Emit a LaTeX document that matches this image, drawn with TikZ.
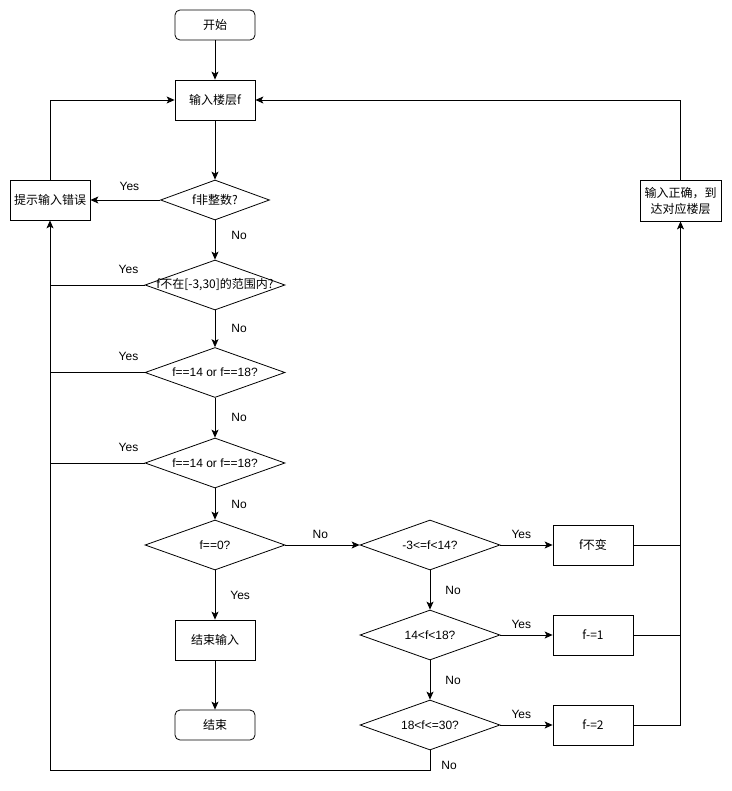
\documentclass[tikz,border=0pt]{standalone}
\usepackage{fontspec}
\setmainfont{Liberation Sans}
\newfontfamily\cjk{Noto Sans CJK SC}
\usepackage{tikz}
\usetikzlibrary{arrows.meta,positioning,shapes.geometric}

\newcommand\fsz{\fontsize{12}{16}\selectfont}

\begin{document}
\begin{tikzpicture}[
  x=1pt, y=-1pt,
  >={Stealth[length=8pt,width=7pt,inset=2pt]},
  line width=0.8pt,
  term/.style={draw, rectangle, rounded corners=5pt, minimum width=80pt,
               minimum height=30pt, font=\fsz\cjk},
  proc/.style={draw, rectangle, minimum width=80pt, minimum height=40pt,
               inner sep=2pt, align=center, font=\fsz\cjk},
  dec/.style={draw, diamond, minimum width=140pt, minimum height=50pt,
              inner sep=0pt, font=\fsz},
  lbl/.style={font=\fsz, inner sep=3pt},
]
\useasboundingbox (0,0) rectangle (731,791);

%%---- Main column --------------------------------------------------
\node[term] (start) at (215,25) {开始};
\node[proc] (inp) at (215,100) {输入楼层f};
\node[dec, minimum width=109pt, minimum height=40pt] (d1) at (215,200)
  {\makebox[0pt]{\cjk f非整数?}};
\node[dec] (d2) at (215,285) {\makebox[0pt]{\cjk f不在[-3,30]的范围内?}};
\node[dec] (d3) at (215,372.5) {\makebox[0pt]{f==14 or f==18?}};
\node[dec] (d4) at (215,463) {\makebox[0pt]{f==14 or f==18?}};
\node[dec] (d5) at (215,545) {\makebox[0pt]{f==0?}};
\node[proc] (stop) at (215,640) {结束输入};
\node[term] (fin) at (215,725) {结束};

% error box on the left
\node[proc] (err) at (50,200) {提示输入错误};

%%---- Floor column -------------------------------------------------
\node[dec] (d6) at (430,545) {\makebox[0pt]{-3<=f<14?}};
\node[dec] (d7) at (430,635) {\makebox[0pt]{14<f<18?}};
\node[dec] (d8) at (430,725) {\makebox[0pt]{18<f<=30?}};

\node[proc] (r1) at (593,545) {f不变};
\node[proc] (r2) at (593,635) {f-=1};
\node[proc] (r3) at (593,725) {f-=2};

\node[proc, minimum width=81pt, minimum height=41pt] (ok) at (680.5,200.5)
  {输入正确，到\\达对应楼层};

%%---- Connectors ---------------------------------------------------
\draw[->] (start) -- (inp);
\draw[->] (inp) -- (d1);
\draw[->] (d1.south) -- (d2.north) node[lbl, pos=0.38, right=13pt] {No};
\draw[->] (d2.south) -- (d3.north) node[lbl, midway, right=13pt] {No};
\draw[->] (d3.south) -- (d4.north) node[lbl, midway, right=13pt] {No};
\draw[->] (d4.south) -- (d5.north) node[lbl, midway, right=13pt] {No};
\draw[->] (d5.south) -- (stop.north) node[lbl, midway, right=12pt] {Yes};
\draw[->] (stop) -- (fin);

\draw[->] (d1.west) -- (err.east) node[lbl, pos=0.44, above=6pt] {Yes};
\draw (d2.west) -- (d2.west -| err.south) node[lbl, pos=0.17, above=8pt] {Yes};
\draw (d3.west) -- (d3.west -| err.south) node[lbl, pos=0.17, above=8pt] {Yes};
\draw (d4.west) -- (d4.west -| err.south) node[lbl, pos=0.17, above=8pt] {Yes};
\draw[->] (err.north) |- (inp.west);

\draw[->] (d5.east) -- (d6.west) node[lbl, pos=0.47, above=3pt] {No};
\draw[->] (d6.south) -- (d7.north) node[lbl, midway, right=12pt] {No};
\draw[->] (d7.south) -- (d8.north) node[lbl, midway, right=12pt] {No};
\draw[->] (d8.south) -- ++(0,20)
  node[lbl, anchor=west, xshift=8pt, yshift=5pt] {No} -| (err.south);

\draw[->] (d6.east) -- (r1.west) node[lbl, pos=0.4, above=3pt] {Yes};
\draw[->] (d7.east) -- (r2.west) node[lbl, pos=0.4, above=3pt] {Yes};
\draw[->] (d8.east) -- (r3.west) node[lbl, pos=0.4, above=3pt] {Yes};

\draw (r1.east) -- (r1.east -| ok.south);
\draw (r2.east) -- (r2.east -| ok.south);
\draw[->] (r3.east) -| (ok.south);
\draw[->] (ok.north) |- (inp.east);

\end{tikzpicture}
\end{document}
